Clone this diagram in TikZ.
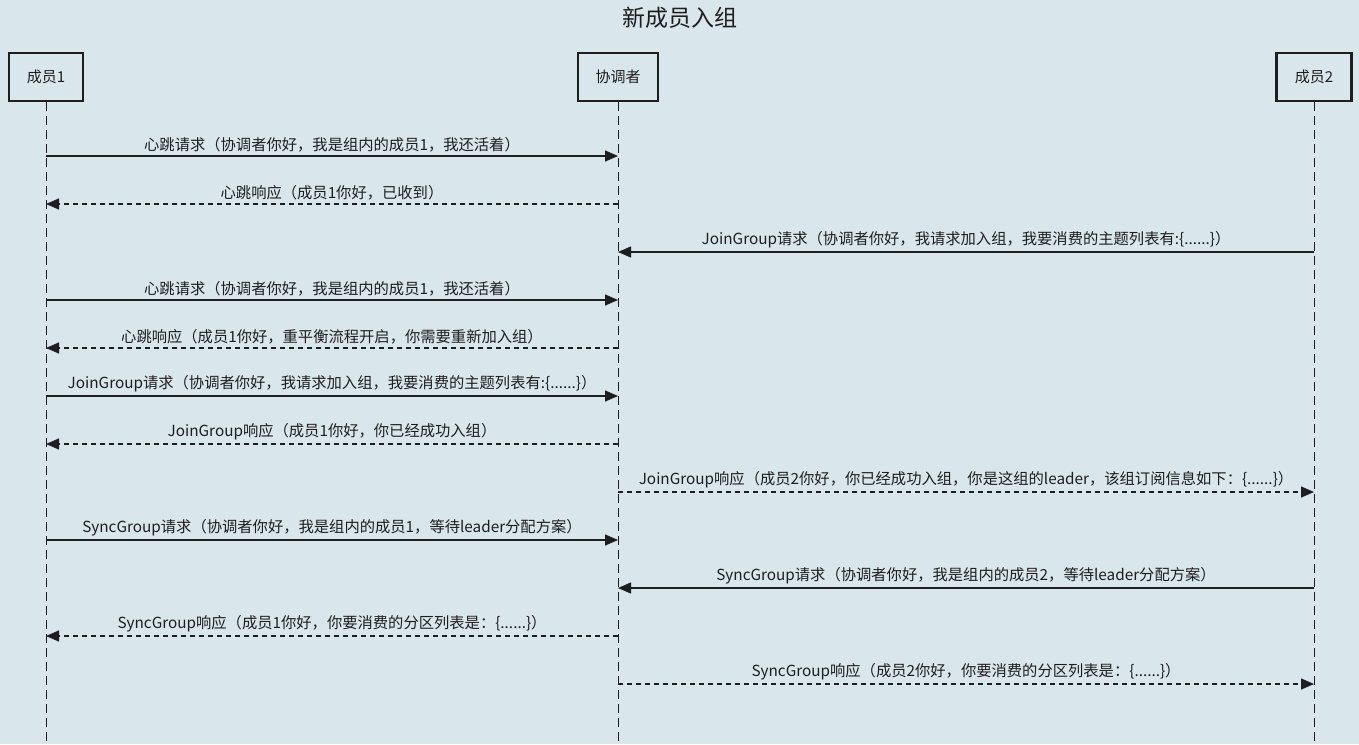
\documentclass[tikz,border=0pt]{standalone}
\usepackage{fontspec}
\setmainfont{Noto Sans CJK SC}
\usetikzlibrary{arrows.meta}
\definecolor{bg}{HTML}{D9E6EC}
\definecolor{ink}{HTML}{1E1E1E}
\tikzset{
  actor/.style={draw=ink, line width=2.8pt, fill=bg, minimum height=48pt, inner sep=0pt, font=\fontsize{15}{17}\selectfont, text=ink},
  life/.style={draw=ink, line width=0.9pt, dash pattern=on 9pt off 5pt},
  req/.style={draw=ink, line width=1.1pt, -{Triangle[length=13pt,width=11pt]}},
  resp/.style={draw=ink, line width=1.1pt, dash pattern=on 5pt off 4pt, -{Triangle[length=13pt,width=11pt]}},
  lbl/.style={midway, above=3pt, inner sep=0pt, font=\fontsize{15.3}{17}\selectfont, text=ink},
}
\begin{document}
\begin{tikzpicture}[x=1pt,y=-1pt]
\fill[bg] (0,0) rectangle (1359,744);
\useasboundingbox (0,0) rectangle (1359,744);
\node[text=ink, font=\fontsize{23}{26}\selectfont] (title) at (680,18) {新成员入组};
\node[actor, minimum width=74pt] (m1) at (46,77) {成员1};
\node[actor, minimum width=80pt] (co) at (618,77) {协调者};
\node[actor, minimum width=75pt] (m2) at (1314,77) {成员2};
\coordinate (m1end) at (46,744);
\coordinate (coend) at (618,744);
\coordinate (m2end) at (1314,744);
\draw[life] (m1.south) -- (m1end);
\draw[life] (co.south) -- (coend);
\draw[life] (m2.south) -- (m2end);
\foreach \i/\y in {1/156,2/204,3/252,4/300,5/348,6/396,7/444,8/492,9/540,10/588,11/636,12/684}{
  \coordinate (a\i) at (46,\y);
  \coordinate (c\i) at (618,\y);
  \coordinate (b\i) at (1314,\y);
}
\draw[req] (a1) -- node[lbl]{心跳请求（协调者你好，我是组内的成员1，我还活着）} (c1);
\draw[resp] (c2) -- node[lbl]{心跳响应（成员1你好，已收到）} (a2);
\draw[req] (b3) -- node[lbl]{JoinGroup请求（协调者你好，我请求加入组，我要消费的主题列表有:\{......\}）} (c3);
\draw[req] (a4) -- node[lbl]{心跳请求（协调者你好，我是组内的成员1，我还活着）} (c4);
\draw[resp] (c5) -- node[lbl]{心跳响应（成员1你好，重平衡流程开启，你需要重新加入组）} (a5);
\draw[req] (a6) -- node[lbl]{JoinGroup请求（协调者你好，我请求加入组，我要消费的主题列表有:\{......\}）} (c6);
\draw[resp] (c7) -- node[lbl]{JoinGroup响应（成员1你好，你已经成功入组）} (a7);
\draw[resp] (c8) -- node[lbl]{JoinGroup响应（成员2你好，你已经成功入组，你是这组的leader，该组订阅信息如下：\{......\}）} (b8);
\draw[req] (a9) -- node[lbl]{SyncGroup请求（协调者你好，我是组内的成员1，等待leader分配方案）} (c9);
\draw[req] (b10) -- node[lbl]{SyncGroup请求（协调者你好，我是组内的成员2，等待leader分配方案）} (c10);
\draw[resp] (c11) -- node[lbl]{SyncGroup响应（成员1你好，你要消费的分区列表是：\{......\}）} (a11);
\draw[resp] (c12) -- node[lbl]{SyncGroup响应（成员2你好，你要消费的分区列表是：\{......\}）} (b12);
\end{tikzpicture}
\end{document}
